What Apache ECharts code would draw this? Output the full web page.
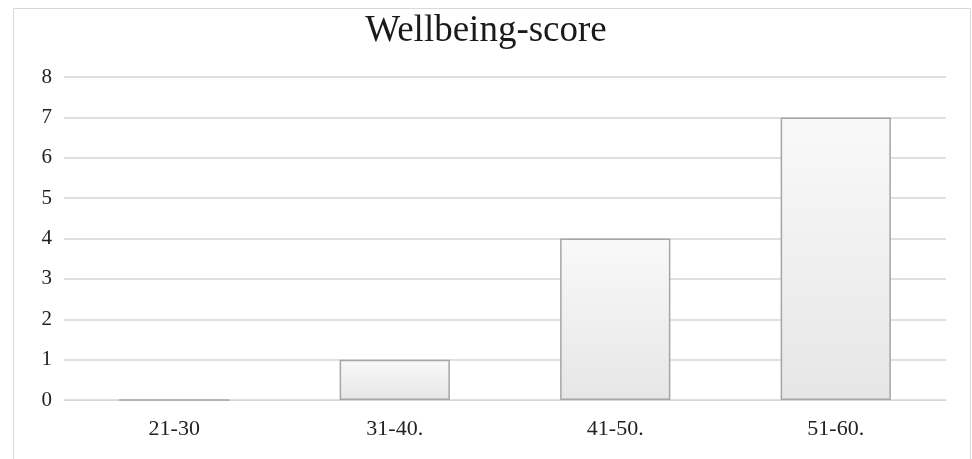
<!DOCTYPE html>
<html>
<head>
<meta charset="utf-8">
<style>
  html, body { margin: 0; padding: 0; background: #fff; }
  #chart { width: 972px; height: 459px; }
</style>
<script src="https://cdn.jsdelivr.net/npm/echarts@6/dist/echarts.min.js"></script>
</head>
<body>
<div id="chart"></div>
<script>
// Score bands and number of respondents in each band
const categories = ['21-30', '31-40.', '41-50.', '51-60.'];
const counts = [0, 1, 4, 7];
const yTicks = [0, 1, 2, 3, 4, 5, 6, 7, 8];

const chart = echarts.init(document.getElementById('chart'));
const serif = '"Liberation Serif", "Times New Roman", serif';

chart.setOption({
  animation: false,
  backgroundColor: '#ffffff',
  graphic: [{
    type: 'rect',
    shape: { x: 13.5, y: 8.5, width: 957, height: 470 },
    style: { fill: 'none', stroke: '#d9d9d9', lineWidth: 1 },
    silent: true
  }],
  title: {
    text: 'Wellbeing-score',
    left: 'center',
    top: 8,
    textStyle: { fontFamily: serif, fontSize: 37, fontWeight: 'normal', color: '#1a1a1a' }
  },
  grid: { left: 64, right: 26, top: 77, bottom: 59 },
  xAxis: {
    type: 'category',
    data: categories,
    axisLine: { show: true, lineStyle: { color: '#d9d9d9' } },
    axisTick: { show: false },
    axisLabel: { fontFamily: serif, fontSize: 22, color: '#222', margin: 18 }
  },
  yAxis: {
    type: 'value',
    min: yTicks[0],
    max: yTicks[yTicks.length - 1],
    interval: 1,
    axisLine: { show: false },
    axisTick: { show: false },
    splitLine: { lineStyle: { color: '#e0e0e0', width: 2 } },
    axisLabel: { fontFamily: serif, fontSize: 21, color: '#222', margin: 12 }
  },
  series: [{
    type: 'bar',
    data: counts,
    barWidth: '50%',
    itemStyle: {
      color: new echarts.graphic.LinearGradient(0, 0, 0, 1, [
        { offset: 0, color: '#f9f9f9' },
        { offset: 1, color: '#e6e6e6' }
      ]),
      borderColor: '#a6a6a6',
      borderWidth: 1.5
    }
  }]
});
</script>
</body>
</html>
